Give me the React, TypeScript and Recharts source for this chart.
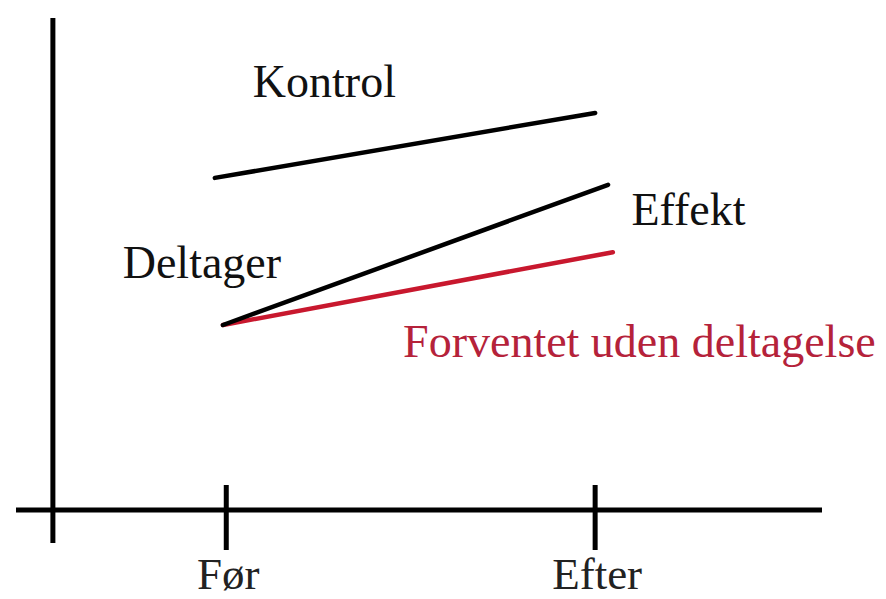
import React from "react";
import {
  LineChart, Line, XAxis, YAxis, ReferenceLine, ReferenceDot,
} from "recharts";

// period positions on the time axis and their labels
const periodTicks = [1, 2];
const periodLabels = ["Før", "Efter"];

// series values (x = time, y = outcome)
const kontrolX = [0.969, 2.0];
const kontrolY = [6.75, 8.07];
const deltagerX = [0.991, 2.035];
const deltagerY = [3.76, 6.61];
const forventetX = [0.991, 2.048];
const forventetY = [3.76, 5.24];

const toPoints = (xs: number[], ys: number[]) => xs.map((x, i) => ({ x, y: ys[i] }));

const RED = "#c8182e";
const FONT = "'Liberation Serif', 'Times New Roman', serif";

// text annotations, anchored at their centre / baseline
const notes = [
  { text: "Kontrol", x: 1.266, y: 8.39, color: "#111" },
  { text: "Effekt", x: 2.253, y: 5.79, color: "#111" },
  { text: "Deltager", x: 0.934, y: 4.72, color: "#111" },
  { text: "Forventet uden deltagelse", x: 2.12, y: 3.11, color: "#b5223a" },
];

const X_DOMAIN: [number, number] = [0.43, 2.615];
const Y_AXIS_AT = 0.53;

function PeriodTick(props: any) {
  const { x, y, payload } = props;
  const idx = periodTicks.indexOf(payload.value);
  return (
    <g>
      <line x1={x} x2={x} y1={y - 25} y2={y + 40} stroke="#000" strokeWidth={5} />
      <text x={x + 2} y={y + 79} textAnchor="middle" fontFamily={FONT} fontSize={45} fill="#222">
        {periodLabels[idx]}
      </text>
    </g>
  );
}

export default function App() {
  return (
    <div style={{ position: "absolute", left: 0, top: 0, width: 886, height: 599, background: "#fff" }}>
      <LineChart width={886} height={599} margin={{ top: 18, right: 64, bottom: 29, left: 16 }}>
        <XAxis
          type="number"
          dataKey="x"
          domain={X_DOMAIN}
          allowDataOverflow
          ticks={periodTicks}
          interval={0}
          height={60}
          tickSize={0}
          tickMargin={0}
          tickLine={false}
          axisLine={{ stroke: "#000", strokeWidth: 5 }}
          tick={<PeriodTick />}
        />
        <YAxis type="number" dataKey="y" domain={[0, 10]} hide />
        <ReferenceLine
          segment={[{ x: Y_AXIS_AT, y: -0.67 }, { x: Y_AXIS_AT, y: 10 }]}
          stroke="#000"
          strokeWidth={5}
          ifOverflow="visible"
        />
        <Line
          data={toPoints(kontrolX, kontrolY)}
          dataKey="y"
          stroke="#000"
          strokeWidth={4.5}
          strokeLinecap="round"
          dot={false}
          isAnimationActive={false}
        />
        <Line
          data={toPoints(forventetX, forventetY)}
          dataKey="y"
          stroke={RED}
          strokeWidth={4.5}
          strokeLinecap="round"
          dot={false}
          isAnimationActive={false}
        />
        <Line
          data={toPoints(deltagerX, deltagerY)}
          dataKey="y"
          stroke="#000"
          strokeWidth={4.5}
          strokeLinecap="round"
          dot={false}
          isAnimationActive={false}
        />
        {notes.map((n) => (
          <ReferenceDot
            key={n.text}
            x={n.x}
            y={n.y}
            r={0}
            fill="none"
            stroke="none"
            ifOverflow="visible"
            label={(p: any) => (
              <text
                x={p.viewBox.x + (p.viewBox.width || 0) / 2}
                y={p.viewBox.y + (p.viewBox.height || 0) / 2}
                textAnchor="middle"
                fontFamily={FONT}
                fontSize={46}
                fill={n.color}
              >
                {n.text}
              </text>
            )}
          />
        ))}
      </LineChart>
    </div>
  );
}
